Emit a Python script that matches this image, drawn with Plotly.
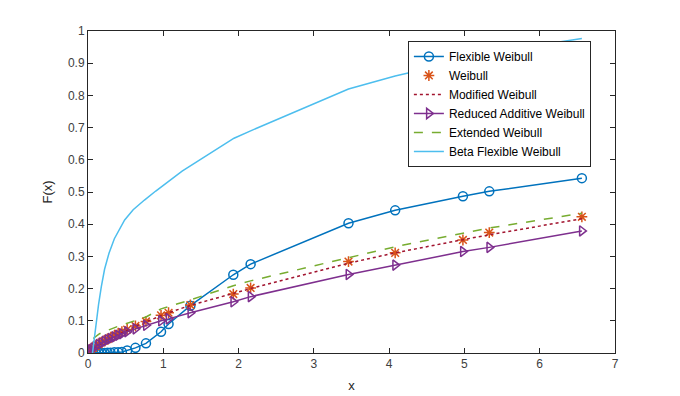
import plotly.graph_objects as go

# data points (sorted sample) used by the fitted CDFs
x_data = [0.02, 0.04, 0.07, 0.10, 0.14, 0.18, 0.22, 0.26, 0.30, 0.35, 0.40, 0.45, 0.52,
          0.63, 0.77, 0.97, 1.07, 1.36, 1.93, 2.16, 3.46, 4.08, 4.98, 5.33, 6.56]

flexible_weibull = [0.0, 0.0, 0.0, 0.0, 0.0, 0.0, 0.0, 0.001, 0.001, 0.002, 0.002, 0.003, 0.008,
                    0.016, 0.03, 0.066, 0.09, 0.147, 0.243, 0.276, 0.403, 0.443, 0.487, 0.502, 0.543]

weibull = [0.006, 0.010, 0.016, 0.021, 0.027, 0.033, 0.038, 0.043, 0.048, 0.054, 0.060, 0.066, 0.073,
           0.084, 0.098, 0.117, 0.125, 0.149, 0.183, 0.202, 0.284, 0.311, 0.351, 0.374, 0.423]

modified_weibull = [0.004, 0.008, 0.013, 0.018, 0.024, 0.030, 0.035, 0.040, 0.045, 0.051, 0.057, 0.063, 0.071,
                    0.083, 0.097, 0.117, 0.125, 0.148, 0.185, 0.200, 0.279, 0.311, 0.352, 0.367, 0.417]

reduced_additive = [0.006, 0.010, 0.015, 0.020, 0.026, 0.031, 0.036, 0.041, 0.045, 0.050, 0.055, 0.060, 0.066,
                    0.075, 0.086, 0.100, 0.106, 0.125, 0.159, 0.175, 0.244, 0.273, 0.315, 0.328, 0.379]

ext_x = x_data[2:]
extended_weibull = [0.045, 0.052, 0.058, 0.063, 0.067, 0.071, 0.075, 0.079, 0.083, 0.087, 0.093,
                    0.101, 0.112, 0.137, 0.144, 0.165, 0.209, 0.224, 0.296, 0.330, 0.372, 0.388, 0.434]

beta_x = [0.06, 0.08, 0.10, 0.115, 0.14, 0.177, 0.22, 0.279, 0.35, 0.487, 0.60, 0.75, 0.90,
          1.25, 1.94, 2.16, 2.60, 3.46, 4.08, 5.00, 6.13, 6.56]
beta_flexible = [0.0, 0.04, 0.075, 0.10, 0.15, 0.206, 0.26, 0.31, 0.355, 0.413, 0.445, 0.475, 0.503,
                 0.565, 0.667, 0.69, 0.734, 0.82, 0.86, 0.91, 0.961, 0.977]

fig = go.Figure()

fig.add_trace(go.Scatter(
    x=x_data, y=flexible_weibull, mode='lines+markers', name='Flexible Weibull',
    line=dict(color='#0072BD', width=1.5),
    marker=dict(symbol='circle-open', size=9, color='#0072BD', line=dict(width=1.5))
))
fig.add_trace(go.Scatter(
    x=x_data, y=weibull, mode='markers', name='Weibull',
    marker=dict(symbol='asterisk-open', size=9, color='#D95319', line=dict(width=1.5, color='#D95319'))
))
fig.add_trace(go.Scatter(
    x=x_data, y=modified_weibull, mode='lines', name='Modified Weibull',
    line=dict(color='#A2142F', width=1.5, dash='dot')
))
fig.add_trace(go.Scatter(
    x=x_data, y=reduced_additive, mode='lines+markers', name='Reduced Additive Weibull',
    line=dict(color='#7E2F8E', width=1.5),
    marker=dict(symbol='triangle-right-open', size=9, color='#7E2F8E', line=dict(width=1.5))
))
fig.add_trace(go.Scatter(
    x=ext_x, y=extended_weibull, mode='lines', name='Extended Weibull',
    line=dict(color='#77AC30', width=1.5, dash='dash')
))
fig.add_trace(go.Scatter(
    x=beta_x, y=beta_flexible, mode='lines', name='Beta Flexible Weibull',
    line=dict(color='#4DBEEE', width=1.5)
))

axis_common = dict(
    showgrid=False, zeroline=False, showline=True, linecolor='#262626', linewidth=1,
    mirror='ticks', ticks='inside', ticklen=5, tickcolor='#262626', automargin=False,
    tickfont=dict(family='Liberation Sans, Arial', size=12, color='#404040'),
)

# page body has an 8px margin, so the figure is drawn 8px smaller and offset
fig.update_layout(
    width=672, height=388,
    paper_bgcolor='white', plot_bgcolor='white',
    margin=dict(l=80, r=65, t=23, b=43),
    font=dict(family='Liberation Sans, Arial', size=12, color='#262626'),
    xaxis=dict(range=[0, 7], dtick=1, title=dict(text='x', font=dict(size=13), standoff=10), **axis_common),
    yaxis=dict(range=[0, 1], dtick=0.1, title=dict(text='F(x)', font=dict(size=13), standoff=12), **axis_common),
    legend=dict(
        x=0.607, y=0.969, xanchor='left', yanchor='top',
        bordercolor='#262626', borderwidth=1, bgcolor='white',
        font=dict(size=12, color='#000000'), tracegroupgap=0
    ),
    showlegend=True
)

fig.write_html("out.html")
